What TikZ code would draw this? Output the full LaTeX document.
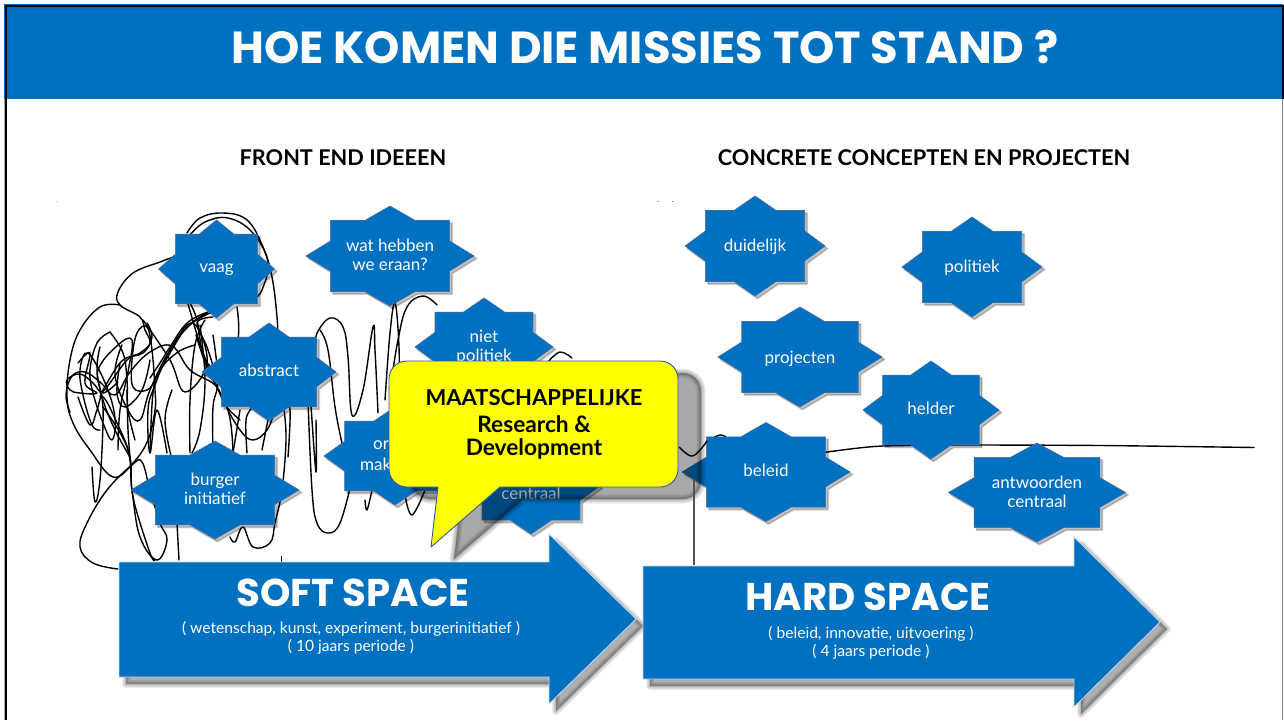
\documentclass[tikz,border=0pt]{standalone}
\usepackage{fontspec}
\setmainfont{Lato}
\newfontfamily\headfont{Poppins}
\definecolor{slideblue}{HTML}{0070C0}
\definecolor{starline}{HTML}{3F6FA8}
\definecolor{calloutline}{HTML}{2F5D8F}
\definecolor{calloutfill}{HTML}{FFFF00}
\definecolor{shadowgray}{HTML}{000000}
\definecolor{vline}{HTML}{555555}
\tikzset{
  scribble/.style={draw=black,line width=1.4pt,line cap=round,line join=round,smooth,tension=0.65},
  startext/.style={text=white,font=\fontsize{17}{19}\selectfont,align=center,inner sep=0pt},
  arrowbody/.style={fill=slideblue,draw=white!75!slideblue,line width=0.8pt},
  starbody/.style={fill=slideblue,draw=starline,line width=0.6pt,line join=miter},
  headtext/.style={font=\fontsize{21.7}{24}\selectfont\bfseries,text=black,inner sep=0pt},
  bigtext/.style={font=\headfont\fontsize{38.7}{42}\selectfont\bfseries,text=white,inner sep=0pt},
  subtext/.style={font=\fontsize{15.6}{18}\selectfont,text=white,align=center,inner sep=0pt},
  speck/.style={fill=gray!70,draw=none}
}
\newcommand{\softshadow}[5]{%
  \begin{scope}[shift={(#1,#2)}]
    \foreach \wd in {#3,0.75*#3,0.5*#3,0.25*#3,0.1}{
      \path[fill=shadowgray,draw=shadowgray,line width=\wd pt,line join=round,opacity=#4,transparency group] #5;
    }
  \end{scope}}
\newcommand{\starpath}[4]{%
  (#1,#2-#4)
  -- (#1+0.3*#3,#2-0.71*#4) -- (#1+0.71*#3,#2-0.71*#4) -- (#1+0.71*#3,#2-0.3*#4)
  -- (#1+#3,#2)
  -- (#1+0.71*#3,#2+0.3*#4) -- (#1+0.71*#3,#2+0.71*#4) -- (#1+0.3*#3,#2+0.71*#4)
  -- (#1,#2+#4)
  -- (#1-0.3*#3,#2+0.71*#4) -- (#1-0.71*#3,#2+0.71*#4) -- (#1-0.71*#3,#2+0.3*#4)
  -- (#1-#3,#2)
  -- (#1-0.71*#3,#2-0.3*#4) -- (#1-0.71*#3,#2-0.71*#4) -- (#1-0.3*#3,#2-0.71*#4)
  -- cycle}
% name, cx, cy, half width, half height, text y offset, text
\newcommand{\sealstar}[7]{%
  \softshadow{2.5}{2.5}{2.5}{0.05}{\starpath{#2}{#3}{#4}{#5}}
  \path[starbody] \starpath{#2}{#3}{#4}{#5};
  \node[startext] (#1) at (#2,#3+#6) {#7};}
\newcommand{\calloutpath}{%
  (407,361) -- (660,361) .. controls (670,361) and (678,369) .. (678,379) -- (678,469)
  .. controls (678,479) and (670,487) .. (660,487) -- (500,487) -- (431,547) -- (438,487) -- (407,487)
  .. controls (397,487) and (389,479) .. (389,469) -- (389,379)
  .. controls (389,369) and (397,361) .. (407,361) -- cycle}
\newcommand{\softarrow}{(119,562) -- (549,562) -- (549,534) -- (636,619) -- (549,704) -- (549,677) -- (119,677) -- cycle}
\newcommand{\hardarrow}{(643,566) -- (1074,566) -- (1074,537) -- (1160,622) -- (1074,707) -- (1074,679) -- (643,679) -- cycle}
\begin{document}
\begin{tikzpicture}[x=1pt,y=-1pt]
\useasboundingbox (0,0) rectangle (1284,720);
\fill[white] (0,0) rectangle (1284,720);
% frame and header
\fill[slideblue] (4,4) rectangle (1282.5,99);
\draw[black,line width=2.5pt] (6,720) -- (6,6) -- (1284,6);
\draw[black,line width=2pt] (1283,6) -- (1283,99);
\draw[gray,line width=1pt] (1282.5,99) -- (1282.5,720);
\draw[gray!70,line width=1pt] (4.5,99) -- (4.5,720);
\fill[slideblue] (7,7.3) rectangle (1282,99);
\node[inner sep=0pt,text=white,font=\headfont\fontsize{44.9}{48}\selectfont\bfseries] (title) at (645,47) {HOE KOMEN DIE MISSIES TOT STAND ?};
\node[headtext] (fronthead) at (343,158) {FRONT END IDEEEN};
\node[headtext] (concretehead) at (924,158) {CONCRETE CONCEPTEN EN PROJECTEN};
% specks
\fill[speck] (55.5,200.5) rectangle (57,202);
\fill[speck] (657,200.5) rectangle (658.5,202);
\fill[speck] (672,200.5) rectangle (673.5,202);
\draw[black,line width=0.8pt] (281,556) -- (281,562);
% scribbles
\draw[scribble] plot coordinates {(187,233) (200,218) (223,213) (247,220) (263,247) (272,277) (277,317) (278,345)};
\draw[scribble] plot coordinates {(190,235) (205,222) (228,218) (252,232) (268,262) (262,290) (255,298)};
\draw[scribble] plot coordinates {(176,256) (160,262) (133,273) (118,292) (120,305) (140,317) (145,330) (150,343) (140,353) (127,360) (107,387) (100,393)};
\draw[scribble] plot coordinates {(120,305) (100,307) (80,330) (70,360) (67,397) (73,423) (90,450) (113,477) (133,463) (148,440) (155,410) (155,390) (152,350) (147,327) (137,333) (132,360) (133,387) (147,390) (157,377) (170,353) (187,327) (207,313)};
\draw[scribble] plot coordinates {(110,332) (97,343) (90,370) (93,393) (103,423) (112,440) (115,418) (106,385) (88,353) (80,370) (83,395) (92,425) (100,430)};
\draw[scribble] plot coordinates {(70,412) (66,395) (72,376) (85,372) (100,382) (115,395) (130,372) (150,352) (172,346) (190,370) (215,385) (225,405) (240,420)};
\draw[scribble] plot coordinates {(118,569) (93,563) (80,547) (87,523) (107,490) (132,465) (142,462) (150,490) (160,523) (167,540) (157,560) (140,537) (132,490) (127,447) (103,407)};
\draw[scribble] plot coordinates {(92,467) (95,502) (100,480) (103,423) (102,397) (98,370) (118,345) (132,340) (128,372) (120,410) (118,450)};
\draw[scribble] plot coordinates {(143,320) (170,360) (185,392) (207,363) (193,323) (170,350) (150,390) (140,420) (128,410) (115,375) (122,345)};
\draw[scribble] plot coordinates {(212,312) (190,325) (170,350) (155,385) (148,410) (150,453) (157,410) (167,453)};
\draw[scribble] plot coordinates {(208,312) (187,323) (170,347) (160,363) (150,378)};
\draw[scribble] plot coordinates {(190,303) (197,320) (203,353) (215,367) (237,343) (237,307)};
\draw[scribble] plot coordinates {(213,317) (197,323) (207,347) (217,377) (230,405)};
\draw[scribble] plot coordinates {(78,363) (90,353) (85,383) (97,393) (80,393) (70,390) (67,380) (80,374) (93,383) (103,393) (118,382)};
\draw[scribble] plot coordinates {(110,332) (123,353) (127,380) (128,410) (135,440)};
\draw[scribble] plot coordinates {(100,347) (97,370) (103,400) (115,430) (130,457)};
\draw[scribble] plot coordinates {(120,363) (117,393) (125,407) (142,390) (150,360)};
\draw[scribble] plot coordinates {(147,323) (152,337) (143,353) (123,360) (107,383) (100,397)};
\draw[scribble] plot coordinates {(78,397) (90,425) (97,410) (103,397) (117,423) (130,457) (133,497) (150,553) (155,560)};
\draw[scribble] plot coordinates {(127,390) (128,430) (130,457)};
\draw[scribble] plot coordinates {(150,453) (153,393) (160,370) (178,352) (195,345)};
\draw[scribble] plot coordinates {(187,300) (203,353) (223,400) (240,430) (253,440) (267,430) (275,410)};
\draw[scribble] plot coordinates {(205,320) (195,345) (190,400) (190,453)};
\draw[scribble] plot coordinates {(200,325) (205,380) (200,430) (192,453)};
\draw[scribble] plot coordinates {(172,390) (165,420) (172,460)};
\draw[scribble] plot coordinates {(177,523) (179,560)};
\draw[scribble] plot coordinates {(213,335) (218,380) (213,407) (213,450)};
\draw[scribble] plot coordinates {(196,335) (208,370) (228,410) (233,453)};
\draw[scribble] plot coordinates {(240,410) (233,453)};
\draw[scribble] plot coordinates {(247,453) (246,420) (252,408)};
\draw[scribble] plot coordinates {(270,410) (262,450)};
\draw[scribble] plot coordinates {(288,457) (290,410) (284,400)};
\draw[scribble] plot coordinates {(284,410) (286,440) (282,490) (275,523) (270,543) (253,547) (243,527) (235,542) (230,537)};
\draw[scribble] plot coordinates {(308,400) (312,490) (317,523) (328,533) (340,523) (352,480)};
\draw[scribble] plot coordinates {(311,405) (316,472) (316,420)};
\draw[scribble] plot coordinates {(316,345) (317,333) (330,318) (343,327) (348,357) (352,415) (363,390) (373,327) (375,350) (378,413)};
\draw[scribble] plot coordinates {(320,330) (328,350) (335,407) (342,443)};
\draw[scribble] plot coordinates {(365,500) (367,510) (372,490)};
\draw[scribble] plot coordinates {(405,495) (412,515) (425,490)};
\draw[scribble] plot coordinates {(385,400) (390,333) (395,303) (399,347) (399,400)};
\draw[scribble] plot coordinates {(390,390) (398,340) (407,307) (423,296) (437,305)};
\draw[scribble] plot coordinates {(548,362) (560,352) (572,358)};
\draw[scribble] plot coordinates {(707,441) (720,435) (727,438)};
\draw[scribble,tension=0.4] plot coordinates {(820,453) (850,449) (883,446) (960,445) (1100,445.5) (1254,447.5)};
% stars
\sealstar{vaag}{216.5}{269}{58}{49}{1}{vaag}
\sealstar{wat}{390}{256}{84}{50}{-1}{wat hebben\\we eraan?}
\sealstar{niet}{484}{347}{69}{49}{0.5}{niet\\politiek}
\sealstar{abstract}{269}{372}{67}{49}{-2}{abstract}
\sealstar{burger}{215}{490}{84}{49}{-1.5}{burger\\initiatief}
\sealstar{orde}{395}{456}{71}{49}{0}{}
\node[startext,anchor=west] (orlbl) at (373,445) {or};
\node[startext,anchor=west] (maklbl) at (360,464) {mak};
\sealstar{centraal}{531}{486}{69}{48}{7}{centraal}
\sealstar{duidelijk}{755}{246}{70}{50}{1}{duidelijk}
\sealstar{politiek}{972}{267}{70}{50}{1}{politiek}
\sealstar{projecten}{800}{357}{82}{50}{2}{projecten}
\sealstar{helder}{931}{410}{68}{49}{-2}{helder}
\sealstar{beleid}{766}{472}{84}{49.5}{-2}{beleid}
\sealstar{antwoorden}{1037}{492.5}{88.5}{49.5}{-1}{antwoorden\\centraal}
% callout
\softshadow{23}{12}{9}{0.08}{\calloutpath}
\draw[scribble] plot coordinates {(679,447) (691,456) (700,450) (707,441)};
\path[fill=calloutfill,draw=calloutline,line width=0.9pt,line join=round] \calloutpath;
\node[inner sep=0pt,font=\fontsize{22}{24}\selectfont\bfseries,text=black] (maatsch) at (534,398) {MAATSCHAPPELIJKE};
\node[inner sep=0pt,font=\fontsize{22.7}{23.5}\selectfont\bfseries,text=black,align=center] (rnd) at (534,437.5) {Research \&\\Development};
% vertical line
\coordinate (vlinetop) at (694,480);
\coordinate (vlinebottom) at (694,565);
\draw[vline,line width=1.2pt] (vlinetop) -- (vlinebottom);
% arrows
\softshadow{7}{7}{8}{0.07}{\softarrow}
\path[arrowbody] \softarrow;
\node[bigtext] (softlbl) at (353,593) {SOFT SPACE};
\node[subtext] (softsub) at (351,638) {( wetenschap, kunst, experiment, burgerinitiatief )\\( 10 jaars periode )};
\softshadow{7}{7}{8}{0.07}{\hardarrow}
\path[arrowbody] \hardarrow;
\node[bigtext] (hardlbl) at (868,597) {HARD SPACE};
\node[subtext] (hardsub) at (871,643) {( beleid, innovatie, uitvoering )\\( 4 jaars periode )};
\end{tikzpicture}
\end{document}
